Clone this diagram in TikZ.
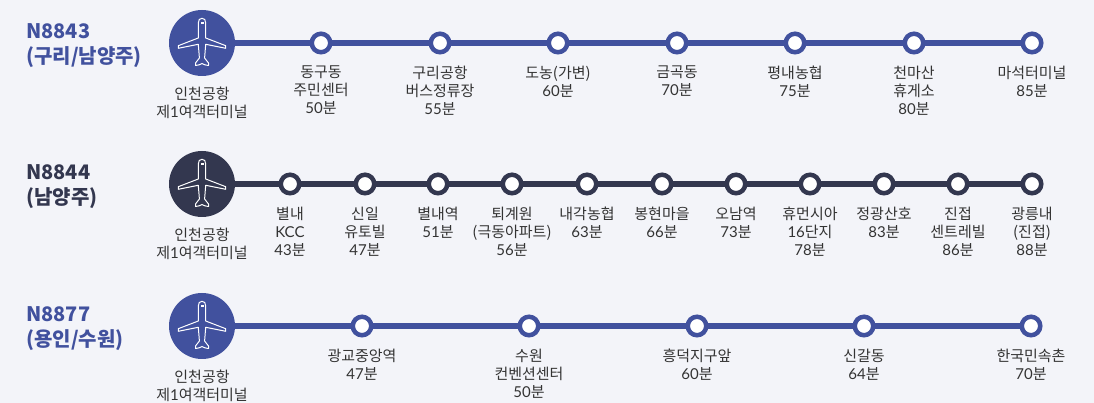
\documentclass[tikz,border=0pt]{standalone}
\usepackage{fontspec}
\setmainfont{Noto Sans CJK KR}
\newfontfamily\latofont{Lato}
\usetikzlibrary{positioning}
\definecolor{RouteBlue}{RGB}{65,81,158}
\definecolor{RouteDark}{RGB}{51,55,79}
\definecolor{PageGray}{RGB}{243,244,249}
\definecolor{LabelGray}{RGB}{51,51,51}
\newcommand{\lat}[1]{{\latofont #1}}
\newcommand{\mins}[1]{{\latofont #1}분}
\tikzset{
  stopdot/.style={circle,draw=#1,fill=white,line width=4.5pt,minimum size=18.5pt,inner sep=0pt},
  hubdot/.style={circle,fill=#1,minimum size=66pt,inner sep=0pt},
  routeline/.style={line width=5.7pt,shorten <=-1.5pt,shorten >=-1.5pt,#1},
  stoplab/.style={font=\fontsize{15}{18}\selectfont,text=LabelGray,align=center,anchor=north,inner sep=0pt},
  routelab/.style={font=\fontsize{20}{25}\selectfont\bfseries,text=#1,align=left,anchor=west,inner sep=0pt},
  plane/.pic={
    \draw[white,line width=1pt,line join=round]
      (0,24.7) .. controls (2.4,24.7) and (3.7,23) .. (3.7,20) -- (3.7,5) -- (23.7,-2.7) -- (23.7,-5.3)
      -- (3.7,-1.3) -- (2.6,-15) -- (6.5,-20) -- (6.5,-22.5) .. controls (3,-22) and (1.5,-21.5) .. (0,-20.5)
      .. controls (-1.5,-21.5) and (-3,-22) .. (-6.5,-22.5) -- (-6.5,-20) -- (-2.6,-15) -- (-3.7,-1.3)
      -- (-23.7,-5.3) -- (-23.7,-2.7) -- (-3.7,5) -- (-3.7,20) .. controls (-3.7,23) and (-2.4,24.7) .. (0,24.7) -- cycle;
    \fill[white] (-1.5,18.5) rectangle (1.5,20.5);
  }
}
\begin{document}
\begin{tikzpicture}[x=1pt,y=1pt]
  \useasboundingbox[fill=PageGray] (0,0) rectangle (1094,403);
  % N8843
  \node[hubdot=RouteBlue] (a-0) at (202,360) {};
  \pic at (a-0) {plane};
  \node[routelab=RouteBlue] (aname) at (26,357.5) {N8843\\(구리/남양주)};
  \node[stoplab,below=11pt of a-0] (ahub) {인천공항\\제\lat{1}여객터미널};
  \foreach \x/\lab [count=\i,remember=\i as \prev (initially 0)] in {
    321/{동구동\\주민센터\\\mins{50}},440/{구리공항\\버스정류장\\\mins{55}},
    558/{도농(가변)\\\mins{60}},677/{금곡동\\\mins{70}},795/{평내농협\\\mins{75}},
    914/{천마산\\휴게소\\\mins{80}},1032/{마석터미널\\\mins{85}}}{
    \node[stopdot=RouteBlue] (a-\i) at (\x,360) {};
    \draw[routeline=RouteBlue] (a-\prev) -- (a-\i);
    \node[stoplab,below=11.5pt of a-\i] (alab-\i) {\lab};}
  % N8844
  \node[hubdot=RouteDark] (b-0) at (202,219) {};
  \pic at (b-0) {plane};
  \node[routelab=RouteDark] (bname) at (26,216.5) {N8844\\(남양주)};
  \node[stoplab,below=11pt of b-0] (bhub) {인천공항\\제\lat{1}여객터미널};
  \foreach \x/\lab [count=\i,remember=\i as \prev (initially 0)] in {
    290/{별내\\\lat{KCC}\\\mins{43}},365/{신일\\유토빌\\\mins{47}},438/{별내역\\\mins{51}},
    512/{퇴계원\\(극동아파트)\\\mins{56}},587/{내각농협\\\mins{63}},662/{봉현마을\\\mins{66}},
    736/{오남역\\\mins{73}},810/{휴먼시아\\\lat{16}단지\\\mins{78}},884/{정광산호\\\mins{83}},
    958/{진접\\센트레빌\\\mins{86}},1032/{광릉내\\(진접)\\\mins{88}}}{
    \node[stopdot=RouteDark] (b-\i) at (\x,219) {};
    \draw[routeline=RouteDark] (b-\prev) -- (b-\i);
    \node[stoplab,below=11.5pt of b-\i] (blab-\i) {\lab};}
  % N8877
  \node[hubdot=RouteBlue] (c-0) at (202,77) {};
  \pic at (c-0) {plane};
  \node[routelab=RouteBlue] (cname) at (26,74.5) {N8877\\(용인/수원)};
  \node[stoplab,below=11pt of c-0] (chub) {인천공항\\제\lat{1}여객터미널};
  \foreach \x/\lab [count=\i,remember=\i as \prev (initially 0)] in {
    362/{광교중앙역\\\mins{47}},529/{수원\\컨벤션센터\\\mins{50}},697/{흥덕지구앞\\\mins{60}},
    864/{신갈동\\\mins{64}},1031/{한국민속촌\\\mins{70}}}{
    \node[stopdot=RouteBlue] (c-\i) at (\x,77) {};
    \draw[routeline=RouteBlue] (c-\prev) -- (c-\i);
    \node[stoplab,below=11.5pt of c-\i] (clab-\i) {\lab};}
\end{tikzpicture}
\end{document}
